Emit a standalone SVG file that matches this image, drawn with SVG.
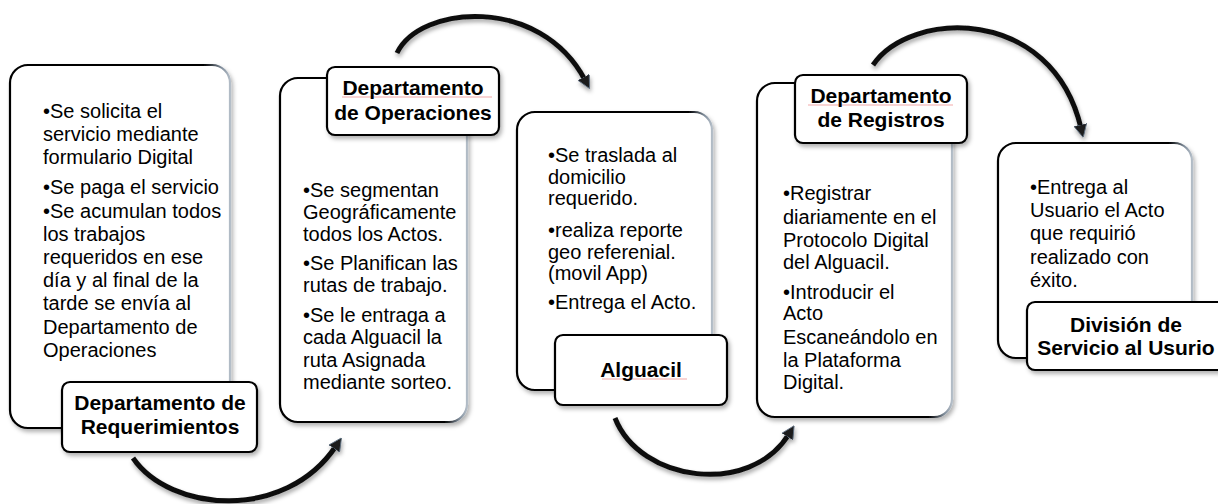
<svg xmlns="http://www.w3.org/2000/svg" width="1218" height="504" viewBox="0 0 1218 504">
<defs>
<linearGradient id="edge" x1="0" y1="0" x2="1" y2="0">
<stop offset="0" stop-color="#000"/>
<stop offset="0.88" stop-color="#000"/>
<stop offset="0.96" stop-color="#7f8c9a"/>
<stop offset="1" stop-color="#b4bec8"/>
</linearGradient>
<filter id="sh" x="-10%" y="-10%" width="130%" height="130%">
<feDropShadow dx="2" dy="3" stdDeviation="2" flood-color="#000" flood-opacity="0.3"/>
</filter>
<filter id="ash" x="-10%" y="-20%" width="130%" height="150%">
<feDropShadow dx="1" dy="3" stdDeviation="2" flood-color="#000" flood-opacity="0.35"/>
</filter>
<marker id="head" viewBox="0 0 12 12" markerWidth="13" markerHeight="13" refX="3" refY="6" orient="auto" markerUnits="userSpaceOnUse">
<path d="M0,0 L12,6 L0,12 z" fill="#1a1a1a" stroke="#5d6d7e" stroke-width="0.8"/>
</marker>
</defs>
<style>
.box{fill:#fff;stroke:url(#edge);stroke-width:2.2;filter:url(#sh)}
.lbl{fill:#fff;stroke:#000;stroke-width:2.2;filter:url(#sh)}
.t{font-family:"Liberation Sans",Arial,sans-serif;font-size:20px;fill:#000}
.b{font-family:"Liberation Sans",Arial,sans-serif;font-size:21px;font-weight:bold;fill:#000;text-anchor:middle}
.arc{fill:none;stroke:#111;stroke-width:5;stroke-linecap:butt;filter:url(#ash)}
.sq{stroke:#f2a9a9;stroke-width:1;fill:none}
</style>

<g id="connectors">
<path class="arc" d="M133,458 C170,512 285,522 336,446" marker-end="url(#head)"/>
<path class="arc" d="M397,53 C420,5 540,-5 585,80" marker-end="url(#head)"/>
<path class="arc" d="M615,418 C640,482 750,497 789,434" marker-end="url(#head)"/>
<path class="arc" d="M873,65 C910,10 1052,5 1081,128" marker-end="url(#head)"/>
</g>

<g id="node-requerimientos">
<rect class="box" x="10" y="65" width="220" height="363" rx="18"/>
<text class="t">
<tspan x="43" y="118">•Se solicita el</tspan>
<tspan x="43" y="141">servicio mediante</tspan>
<tspan x="43" y="164">formulario Digital</tspan>
<tspan x="43" y="194">•Se paga el servicio</tspan>
<tspan x="43" y="218">•Se acumulan todos</tspan>
<tspan x="43" y="241">los trabajos</tspan>
<tspan x="43" y="264">requeridos en ese</tspan>
<tspan x="43" y="287">día y al final de la</tspan>
<tspan x="43" y="310">tarde se envía al</tspan>
<tspan x="43" y="334">Departamento de</tspan>
<tspan x="43" y="357">Operaciones</tspan>
</text>
<rect class="lbl" x="62" y="382" width="195" height="70" rx="8"/>
<text class="b"><tspan x="160" y="410">Departamento de</tspan><tspan x="160" y="434">Requerimientos</tspan></text>
</g>

<g id="node-operaciones">
<rect class="box" x="280" y="78" width="187" height="344" rx="18"/>
<text class="t">
<tspan x="303" y="197">•Se segmentan</tspan>
<tspan x="303" y="219">Geográficamente</tspan>
<tspan x="303" y="241">todos los Actos.</tspan>
<tspan x="303" y="270">•Se Planifican las</tspan>
<tspan x="303" y="292">rutas de trabajo.</tspan>
<tspan x="303" y="322">•Se le entraga a</tspan>
<tspan x="303" y="344">cada Alguacil la</tspan>
<tspan x="303" y="367">ruta Asignada</tspan>
<tspan x="303" y="389">mediante sorteo.</tspan>
</text>
<rect class="lbl" x="327" y="67" width="172" height="68" rx="8"/>
<path class="sq" d="M342,97 L492,97"/>
<text class="b"><tspan x="413" y="95">Departamento</tspan><tspan x="413" y="120">de Operaciones</tspan></text>
</g>

<g id="node-alguacil">
<rect class="box" x="517" y="112" width="195" height="278" rx="18"/>
<text class="t">
<tspan x="548" y="162">•Se traslada al</tspan>
<tspan x="548" y="184">domicilio</tspan>
<tspan x="548" y="205">requerido.</tspan>
<tspan x="548" y="237">•realiza reporte</tspan>
<tspan x="548" y="259">geo referenial.</tspan>
<tspan x="548" y="280">(movil App)</tspan>
<tspan x="548" y="309">•Entrega el Acto.</tspan>
</text>
<rect class="lbl" x="555" y="335" width="172" height="70" rx="8"/>
<path class="sq" d="M602,379 L687,379"/>
<text class="b"><tspan x="641" y="377">Alguacil</tspan></text>
</g>

<g id="node-registros">
<rect class="box" x="757" y="83" width="195" height="334" rx="18"/>
<text class="t">
<tspan x="783" y="200">•Registrar</tspan>
<tspan x="783" y="224">diariamente en el</tspan>
<tspan x="783" y="247">Protocolo Digital</tspan>
<tspan x="783" y="269">del Alguacil.</tspan>
<tspan x="783" y="299">•Introducir el</tspan>
<tspan x="783" y="320">Acto</tspan>
<tspan x="783" y="344">Escaneándolo en</tspan>
<tspan x="783" y="367">la Plataforma</tspan>
<tspan x="783" y="389">Digital.</tspan>
</text>
<rect class="lbl" x="795" y="75" width="172" height="68" rx="8"/>
<path class="sq" d="M808,105 L953,105"/>
<text class="b"><tspan x="881" y="103">Departamento</tspan><tspan x="881" y="127">de Registros</tspan></text>
</g>

<g id="node-division">
<rect class="box" x="998" y="143" width="194" height="215" rx="18"/>
<text class="t">
<tspan x="1030" y="194">•Entrega al</tspan>
<tspan x="1030" y="217">Usuario el Acto</tspan>
<tspan x="1030" y="240">que requirió</tspan>
<tspan x="1030" y="264">realizado con</tspan>
<tspan x="1030" y="287">éxito.</tspan>
</text>
<rect class="lbl" x="1027" y="302" width="200" height="68" rx="8"/>
<text class="b"><tspan x="1126" y="332">División de</tspan><tspan x="1126" y="355">Servicio al Usurio</tspan></text>
</g>
</svg>
